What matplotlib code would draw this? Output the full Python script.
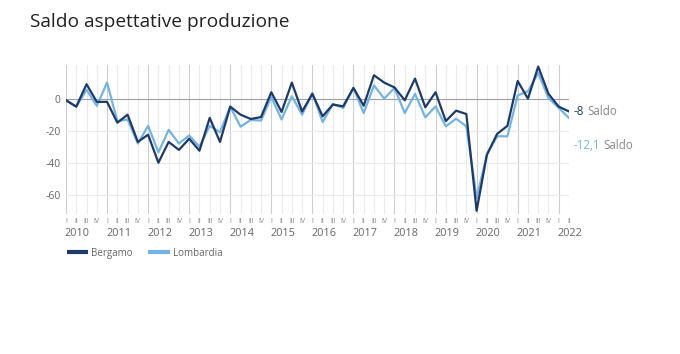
import matplotlib
matplotlib.use("Agg")
import matplotlib.pyplot as plt
from matplotlib.lines import Line2D
from matplotlib.transforms import blended_transform_factory

# Dati trimestrali 2010-I ... 2022-II
anni = list(range(2010, 2023))
trimestri = ["I", "II", "III", "IV"]
bergamo = [-1, -5, 9, -2, -2, -15, -10, -27, -22.5, -40, -27, -32, -25, -32.5, -12, -27,
           -5, -10, -12.7, -11.5, 4, -8.3, 10, -8, 3, -11, -3.7, -4.8, 6.7, -4.4, 14.6, 10,
           7, -1, 12.5, -5.4, 4, -14, -7.5, -9.6, -70, -35, -22, -17, 11, 0, 20, 3, -5, -8]
lombardia = [-1, -5, 5.5, -4.5, 10, -14, -13, -28, -17, -33.5, -19.5, -28, -23, -30, -17, -21,
             -5, -17.5, -13.3, -13.7, 1, -13, 1.5, -10, 3.5, -14.6, -3.3, -5.8, 6.7, -9, 8.3, 0,
             6.7, -9, 3, -11.7, -4.8, -17.3, -12.5, -17.3, -62, -35, -23.5, -23.5, 2, 4.6, 16, 0.4, -5.8, -12.1]
serie = ["Bergamo", "Lombardia"]
etichette_fine = ["-8", "-12,1"]

col_berg = "#1d3a6b"
col_lomb = "#74b4e4"
grigio = "#666666"
font_narrow = ["Open Sans", "DejaVu Sans"]

fig = plt.figure(figsize=(6.8, 3.54), dpi=100)
ax = fig.add_axes([66/680, 1-214/354, (569-66)/680, (214-65)/354])

x = list(range(len(bergamo)))
etich_trim = [trimestri[i % 4] for i in x]

# griglia verticale
for i in x:
    ax.axvline(i, color="#cfcfcf" if i % 4 == 0 else "#ebebeb", lw=0.8, zorder=0)
# griglia orizzontale
for v in [-60, -40, -20]:
    ax.axhline(v, color="#ebebeb", lw=0.8, zorder=0)
ax.axhline(0, color="#a0a0a0", lw=0.8, zorder=1)

ax.plot(x, lombardia, color=col_lomb, lw=1.6, zorder=3)
ax.plot(x, bergamo, color=col_berg, lw=1.6, zorder=4)

ax.set_xlim(0, len(x) - 1)
ax.set_ylim(-72, 21)
ax.set_yticks([-60, -40, -20, 0])
ax.set_yticklabels(["-60", "-40", "-20", "0"], family=font_narrow, fontsize=7.5, color=grigio)
ax.tick_params(axis="y", length=0, pad=4)
ax.set_xticks(x)
ax.set_xticklabels(etich_trim, family=font_narrow, fontsize=5, color="#888888")
ax.tick_params(axis="x", length=0, pad=3)
for s in ax.spines.values():
    s.set_visible(False)

trans = blended_transform_factory(ax.transData, ax.transAxes)
for k, anno in enumerate(anni):
    ax.text(k * 4 - 0.1, -0.13, str(anno), transform=trans, ha="left", va="center",
            family=font_narrow, fontsize=7.8, color=grigio)

# etichette finali
ult = len(x) - 1
ax.annotate(etichette_fine[0], xy=(ult, bergamo[-1]), xytext=(3, 0), textcoords="offset points",
            va="center", ha="left", family=font_narrow, fontsize=8.3, color=col_berg, annotation_clip=False)
ax.annotate("Saldo", xy=(ult, bergamo[-1]), xytext=(13, 0), textcoords="offset points",
            va="center", ha="left", family=font_narrow, fontsize=8.3, color="#888888", annotation_clip=False)
ax.annotate(etichette_fine[1], xy=(ult, lombardia[-1]), xytext=(3, -20), textcoords="offset points",
            va="center", ha="left", family=font_narrow, fontsize=8.3, color=col_lomb, annotation_clip=False)
ax.annotate("Saldo", xy=(ult, lombardia[-1]), xytext=(25, -20), textcoords="offset points",
            va="center", ha="left", family=font_narrow, fontsize=8.3, color="#888888", annotation_clip=False)

fig.text(30/680, 1-22/354, "Saldo aspettative produzione", family=["Open Sans", "DejaVu Sans"],
         fontsize=13.8, color="#222222", va="center", ha="left")

# legenda disegnata a mano
leg_y = 1 - 252/354
for (x0, x1, xt), nome, col in zip([(67, 88, 91), (148, 170, 173)], serie, [col_berg, col_lomb]):
    fig.add_artist(Line2D([x0/680, x1/680], [leg_y, leg_y], color=col, lw=3,
                          solid_capstyle="butt", transform=fig.transFigure))
    fig.text(xt/680, leg_y, nome, family=font_narrow, fontsize=7, color=grigio,
             ha="left", va="center_baseline")

fig.savefig("out.png", dpi=100, facecolor="white")
